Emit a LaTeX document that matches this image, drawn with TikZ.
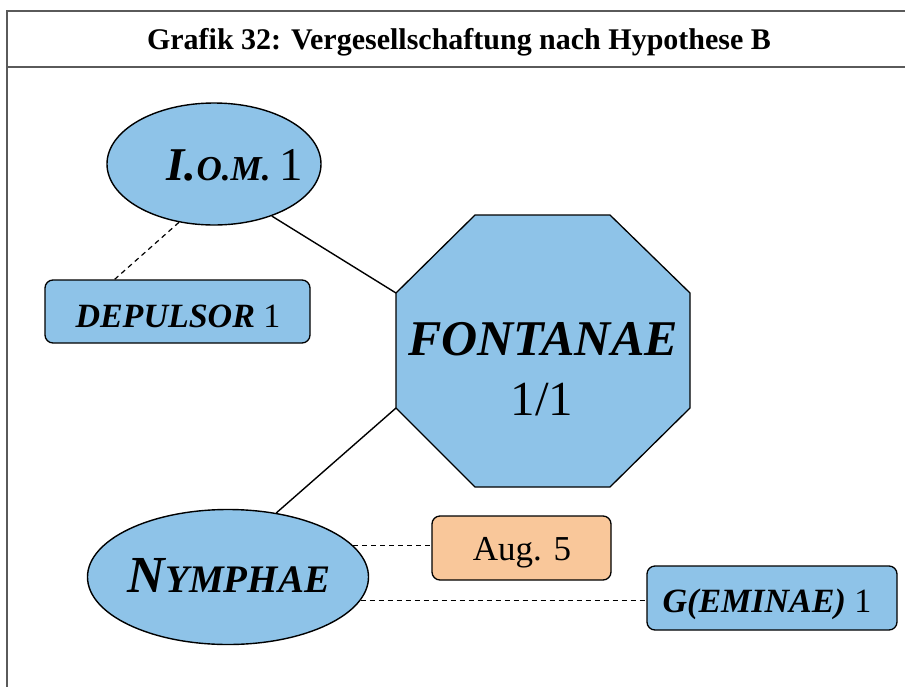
\documentclass[tikz,border=0pt]{standalone}
\usepackage{fontspec}
\setmainfont{Liberation Serif}
\usetikzlibrary{shapes.geometric,calc}
\definecolor{boxblue}{HTML}{8EC3E8}
\definecolor{boxorange}{HTML}{F9C79A}
\definecolor{framegray}{HTML}{5A5A5A}
\newcommand\fsz[1]{\fontsize{#1}{#1}\selectfont}
\begin{document}
\begin{tikzpicture}[x=1pt,y=-1pt,
  blob/.style={ellipse, draw=black, line width=1.4pt, fill=boxblue, inner sep=0pt},
  rbox/.style={rectangle, rounded corners=8pt, draw=black, line width=1.3pt, inner sep=0pt},
  txt/.style={inner sep=0pt, anchor=base},
  link/.style={line width=1.4pt, draw=black},
  dlink/.style={link, line width=1.2pt, dash pattern=on 5pt off 4pt}]
\useasboundingbox (0,0) rectangle (905,686);
% frame
\draw[framegray, line width=2pt] (7,700) -- (7,11) -- (920,11);
\draw[framegray, line width=2pt] (7,67) -- (920,67);
\node[txt] (title) at (459,49) {\fsz{30}\bfseries Grafik 32: Vergesellschaftung nach Hypothese B};
% I.O.M.
\node[blob, minimum width=214pt, minimum height=122pt] (iom) at (214,164) {};
\node[txt] (iomtext) at (235,180) {\fsz{47}\bfseries\itshape I.{\fsz{35}O.M.}\mdseries\upshape\hspace{0.2em}1};
% DEPULSOR
\node[rbox, fill=boxblue, minimum width=265pt, minimum height=63pt] (dep) at (177.5,311.5) {};
\node[txt] (deptext) at (178,327) {\fsz{34}\textbf{\textit{DEPULSOR}} 1};
% FONTANAE octagon
\coordinate (fonNW) at (396,293);
\coordinate (fonSW) at (396,408);
\draw[fill=boxblue, draw=black, line width=1.3pt, line join=miter]
  (fonNW) -- (475,215) -- (610,215) -- (690,293) -- (690,408) -- (610,487) -- (475,487) -- (fonSW) -- cycle;
\node[txt] (fontext) at (543,355) {\fsz{50}\textbf{\textit{FONTANAE}}};
\node[txt] (fonnum) at (542,415) {\fsz{49}1/1};
% NYMPHAE
\node[blob, minimum width=281pt, minimum height=135pt] (nym) at (228,577) {};
\node[txt] (nymtext) at (229,592) {\fsz{52}\bfseries\itshape N{\fsz{39}YMPHAE}};
% Aug. 5
\node[rbox, fill=boxorange, minimum width=179pt, minimum height=64pt] (aug) at (521.5,548) {};
\node[txt] (augtext) at (522,560) {\fsz{35}Aug. 5};
% G(EMINAE)
\node[rbox, fill=boxblue, minimum width=250pt, minimum height=64pt] (gem) at (772,598) {};
\node[txt] (gemtext) at (767,612) {\fsz{34}\textbf{\textit{G(EMINAE)}} 1};
% connectors
\draw[link] (iom.-42) -- (fonNW);
\draw[dlink] (iom.-121) -- ($(dep.north west)!0.264!(dep.north east)$);
\draw[link] (fonSW) -- (nym.53);
\draw[dlink] (nym.14) -- (nym.14 -| aug.west);
\draw[dlink] (nym.-10.6) -- (nym.-10.6 -| gem.west);
\end{tikzpicture}
\end{document}
